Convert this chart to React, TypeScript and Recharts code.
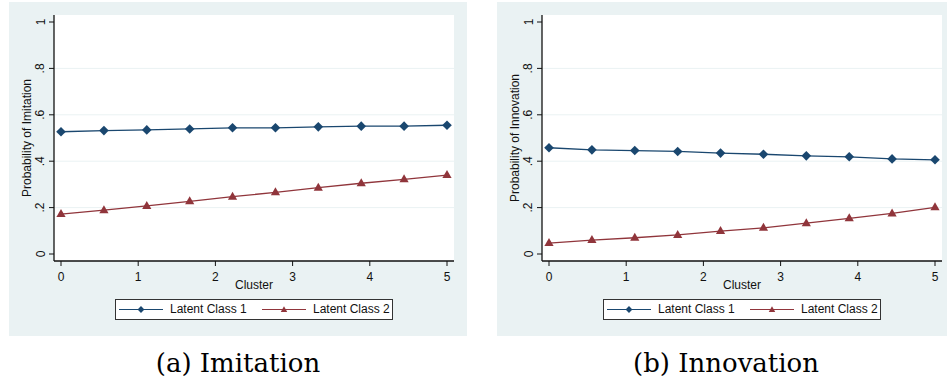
import { CartesianGrid, Legend, Line, LineChart, ReferenceLine, XAxis, YAxis } from 'recharts';

const clusterValues = [0, 0.556, 1.111, 1.667, 2.222, 2.778, 3.333, 3.889, 4.444, 5];
const imitationClass1 = [0.527, 0.532, 0.535, 0.539, 0.544, 0.544, 0.548, 0.551, 0.551, 0.555];
const imitationClass2 = [0.172, 0.189, 0.207, 0.227, 0.247, 0.266, 0.286, 0.305, 0.322, 0.34];
const innovationClass1 = [0.458, 0.449, 0.446, 0.442, 0.435, 0.43, 0.423, 0.419, 0.41, 0.406];
const innovationClass2 = [0.047, 0.06, 0.07, 0.082, 0.099, 0.113, 0.133, 0.154, 0.175, 0.201];

const xTicks = [0, 1, 2, 3, 4, 5];
const yTicks = [0, 0.2, 0.4, 0.6, 0.8, 1];
const gridValues = [0.2, 0.4, 0.6, 0.8];
const yTickLabels = ['0', '.2', '.4', '.6', '.8', '1'];
const legendLabels = ['Latent Class 1', 'Latent Class 2'];

const NAVY = '#1a476f';
const MAROON = '#90353b';
const PANEL_BG = '#eaf2f3';
const INK = '#111';
const SANS = '"Liberation Sans", Arial, sans-serif';
const SERIF = '"DejaVu Serif", serif';

type Row = { cluster: number; c1: number; c2: number };

const buildRows = (c1: number[], c2: number[]): Row[] =>
  clusterValues.map((cluster, i) => ({ cluster, c1: c1[i], c2: c2[i] }));

function Diamond({ cx, cy, r = 4.8 }: { cx?: number; cy?: number; r?: number }) {
  if (cx == null || cy == null) return null;
  return <path d={`M${cx},${cy - r}L${cx + r},${cy}L${cx},${cy + r}L${cx - r},${cy}Z`} fill={NAVY} />;
}

function Triangle({ cx, cy, s = 1 }: { cx?: number; cy?: number; s?: number }) {
  if (cx == null || cy == null) return null;
  return (
    <path
      d={`M${cx},${cy - 5 * s}L${cx + 4.6 * s},${cy + 3 * s}L${cx - 4.6 * s},${cy + 3 * s}Z`}
      fill={MAROON}
    />
  );
}

function RotatedTick({ x, y, payload }: { x?: number; y?: number; payload?: { value: number } }) {
  const i = yTicks.indexOf(payload?.value ?? -1);
  return (
    <text
      x={x}
      y={y}
      transform={`rotate(-90, ${x}, ${y})`}
      textAnchor="middle"
      fontSize={12}
      fontFamily={SANS}
      fill={INK}
    >
      {yTickLabels[i]}
    </text>
  );
}

function LegendBox() {
  const item = (label: string, color: string, marker: 'd' | 't', left: number) => (
    <div style={{ position: 'absolute', left, top: 0, height: 19, display: 'flex', alignItems: 'center' }}>
      <svg width={44} height={19}>
        <line x1={0} y1={9.5} x2={44} y2={9.5} stroke={color} strokeWidth={1.2} />
        {marker === 'd' ? <Diamond cx={22} cy={9.5} r={3.4} /> : <Triangle cx={22} cy={9.8} s={0.7} />}
      </svg>
      <span style={{ marginLeft: 7, fontSize: 12, fontFamily: SANS, color: INK, lineHeight: '19px' }}>{label}</span>
    </div>
  );
  return (
    <div style={{ position: 'relative', width: 276, height: 19, background: '#fff', border: '1px solid #333' }}>
      {item(legendLabels[0], NAVY, 'd', 3)}
      {item(legendLabels[1], MAROON, 't', 146)}
    </div>
  );
}

function Panel({ left, rows, yTitle }: { left: number; rows: Row[]; yTitle: string }) {
  return (
    <div style={{ position: 'absolute', left, top: 2, width: 458, height: 334, background: PANEL_BG }}>
      <LineChart width={458} height={334} data={rows} margin={{ top: 13, right: 13, bottom: 45, left: 0 }}>
        <CartesianGrid fill="#fff" horizontal={false} vertical={false} stroke="none" />
        {gridValues.map((v) => (
          <ReferenceLine key={v} y={v} stroke={PANEL_BG} strokeWidth={1} />
        ))}
        <XAxis
          dataKey="cluster"
          type="number"
          domain={[0, 5]}
          ticks={xTicks}
          padding={{ left: 7, right: 7 }}
          height={30}
          tickSize={5}
          tickMargin={6}
          axisLine={{ stroke: INK, strokeWidth: 1.3 }}
          tickLine={{ stroke: INK }}
          tick={{ fontSize: 12, fontFamily: SANS, fill: INK }}
          label={{
            content: (props: any) => {
              const vb = props.viewBox;
              return (
                <text x={vb.x + vb.width / 2} y={vb.y + 28.3} textAnchor="middle" fontSize={12} fontFamily={SANS} fill={INK}>
                  Cluster
                </text>
              );
            },
          }}
        />
        <YAxis
          type="number"
          domain={[0, 1]}
          ticks={yTicks}
          padding={{ top: 7, bottom: 7 }}
          width={45}
          tickSize={5}
          tickMargin={4.5}
          axisLine={{ stroke: INK, strokeWidth: 1.3 }}
          tickLine={{ stroke: INK }}
          tick={<RotatedTick />}
          label={{
            content: (props: any) => {
              const vb = props.viewBox;
              const cy = vb.y + vb.height / 2;
              return (
                <text
                  x={22}
                  y={cy}
                  transform={`rotate(-90, 22, ${cy})`}
                  textAnchor="middle"
                  fontSize={12}
                  fontFamily={SANS}
                  fill={INK}
                >
                  {yTitle}
                </text>
              );
            },
          }}
        />
        <Legend
          layout="horizontal"
          verticalAlign="middle"
          align="center"
          content={() => <LegendBox />}
          wrapperStyle={{ position: 'absolute', left: 106, top: 297, width: 278, height: 21 }}
        />
        <Line
          type="linear"
          dataKey="c1"
          name={legendLabels[0]}
          stroke={NAVY}
          strokeWidth={1.3}
          dot={(p: any) => <Diamond key={`d${p.index}`} cx={p.cx} cy={p.cy} />}
          activeDot={false}
          isAnimationActive={false}
        />
        <Line
          type="linear"
          dataKey="c2"
          name={legendLabels[1]}
          stroke={MAROON}
          strokeWidth={1.3}
          dot={(p: any) => <Triangle key={`t${p.index}`} cx={p.cx} cy={p.cy} />}
          activeDot={false}
          isAnimationActive={false}
        />
      </LineChart>
    </div>
  );
}

function Caption({ center, text }: { center: number; text: string }) {
  return (
    <div
      style={{
        position: 'absolute',
        left: center - 120,
        width: 240,
        top: 348,
        textAlign: 'center',
        fontFamily: SERIF,
        fontSize: 26,
        lineHeight: '30px',
        color: '#000',
        whiteSpace: 'nowrap',
      }}
    >
      {text}
    </div>
  );
}

export default function App() {
  return (
    <div style={{ position: 'fixed', left: 0, top: 0, width: 947, height: 385, overflow: 'hidden', background: '#fff' }}>
      <Panel left={9} rows={buildRows(imitationClass1, imitationClass2)} yTitle="Probability of Imitation" />
      <Panel left={497} rows={buildRows(innovationClass1, innovationClass2)} yTitle="Probability of Innovation" />
      <Caption center={238} text="(a) Imitation" />
      <Caption center={726} text="(b) Innovation" />
    </div>
  );
}
